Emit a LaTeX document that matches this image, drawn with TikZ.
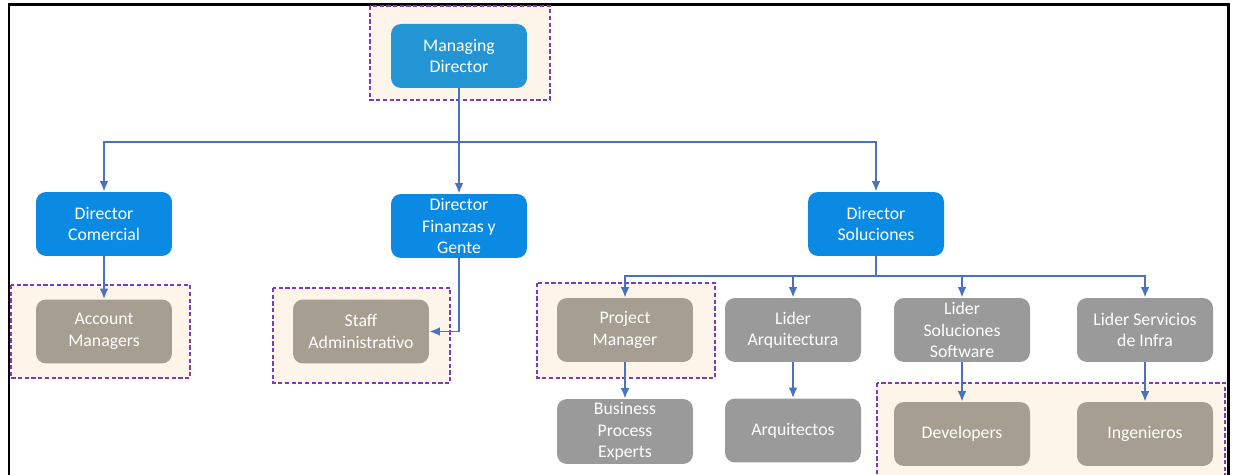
\documentclass[tikz,border=0pt]{standalone}
\usepackage{fontspec}
\setmainfont{Carlito}
\usepackage{xcolor}
\usepackage{tikz}
\usetikzlibrary{arrows.meta, positioning, calc}

\definecolor{mdblue}{HTML}{2395D5}
\definecolor{dirblue}{HTML}{0A8AE2}
\definecolor{tanbox}{HTML}{A59E91}
\definecolor{greybox}{HTML}{9B9A9B}
\definecolor{linkblue}{HTML}{4A72C2}
\definecolor{groupfill}{HTML}{FDF5E9}
\definecolor{groupline}{HTML}{7B3BBE}

\tikzset{
  unit/.style={rounded corners=0.2cm, minimum width=2.72cm, minimum height=1.28cm,
    align=center, text=white, font=\fontsize{10.1}{12.2}\selectfont, inner sep=2pt},
  head/.style={unit, fill=dirblue},
  team/.style={unit, fill=tanbox},
  lead/.style={unit, fill=greybox},
  group/.style={draw=groupline, fill=groupfill, line width=0.9pt, dash pattern=on 2.4pt off 1.4pt},
  link/.style={draw=linkblue, line width=1.1pt, -{Latex[length=6pt,width=5pt]}},
  frame/.style={draw=black, line width=1.7pt}
}

\begin{document}
\begin{tikzpicture}[x=0.02cm, y=-0.02cm]
  \useasboundingbox (0,0) rectangle (1236,475);
  \clip (0,0) rectangle (1236,475);

  % outer frame (runs past the bottom edge)
  \draw[frame] (9,520) -- (9,5) -- (1228,5) -- (1228,520);

  % highlighted groups
  \draw[group] (370,6) rectangle (550,100);
  \draw[group] (11,285) rectangle (190,378);
  \draw[group] (273,288) rectangle (450,383);
  \draw[group] (537,283) rectangle (715,378);
  \draw[group] (877,383) rectangle (1225,500);

  % top level
  \node[head, fill=mdblue] (md) at (459,56) {Managing\\Director};

  % directors
  \node[head] (dcom) at (104,224) {Director\\Comercial};
  \node[head] (dfin) at (459,226) {Director\\Finanzas y\\Gente};
  \node[head] (dsol) at (876,224) {Director\\Soluciones};

  % second row
  \node[team] (acc) at (104,331.5) {Account\\Managers};
  \node[team] (staff) at (361,331.5) {Staff\\Administrativo};
  \node[team] (pm) at (625,330) {Project\\Manager};
  \node[lead] (larq) at (793,330) {Lider\\Arquitectura};
  \node[lead] (lsw) at (962,330) {Lider\\Soluciones\\Software};
  \node[lead] (linf) at (1145,330) {Lider Servicios\\de Infra};

  % third row
  \node[lead] (bpe) at (625,431.5) {Business\\Process\\Experts};
  \node[lead] (arq) at (793,430.5) {Arquitectos};
  \node[team] (dev) at (962,434) {Developers};
  \node[team] (ing) at (1145,434) {Ingenieros};

  % connectors
  \coordinate (bus) at (0,142);
  \coordinate (subbus) at (0,276);
  \draw[link] (md.south) -- (md.south |- bus) -| (dcom.north);
  \draw[link] (md.south) -- (dfin.north);
  \draw[link] (md.south |- bus) -| (dsol.north);
  \draw[link] (dcom) -- (acc);
  \draw[link] (dfin.south) |- (staff.east);
  \draw[link] (dsol.south) -- (dsol.south |- subbus) -| (pm.north);
  \draw[link] (dsol.south |- subbus) -| (larq.north);
  \draw[link] (dsol.south |- subbus) -| (lsw.north);
  \draw[link] (dsol.south |- subbus) -| (linf.north);
  \draw[link] (pm) -- (bpe);
  \draw[link] (larq) -- (arq);
  \draw[link] (lsw) -- (dev);
  \draw[link] (linf) -- (ing);
\end{tikzpicture}
\end{document}
